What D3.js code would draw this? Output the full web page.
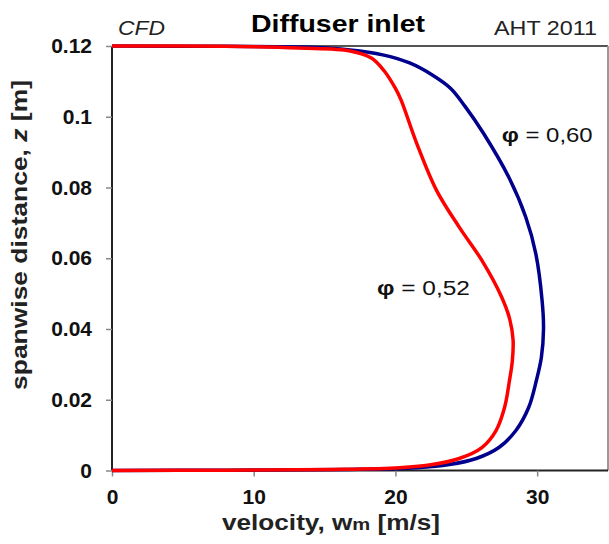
<!DOCTYPE html>
<html>
<head>
<meta charset="utf-8">
<script src="https://cdn.jsdelivr.net/npm/d3@7"></script>
<style>
  html, body { margin: 0; padding: 0; background: #fff; }
  svg { display: block; font-family: "Liberation Sans", Arial, sans-serif; }
</style>
</head>
<body>
<svg id="chart" width="609" height="544"></svg>
<script>
// ---- data ----
// phi = 0.52 (red): velocity [m/s] and spanwise distance z [m], ordered along the curve
const red_v = [0, 8, 15.6, 20.3, 22.6, 24.5, 26.1, 27.1, 27.7, 28.05, 28.25, 28.3, 28.05, 27.5, 26.1, 24.5, 22.9, 21.5, 20.4, 20.0, 19.2, 18.3, 16.8, 13.2, 8, 0];
const red_z = [0, 0.0001, 0.0003, 0.0008, 0.0017, 0.0034, 0.0065, 0.0113, 0.0178, 0.0255, 0.0310, 0.0370, 0.0430, 0.0490, 0.0594, 0.0688, 0.0792, 0.0925, 0.1047, 0.1080, 0.1130, 0.1166, 0.1186, 0.1194, 0.1199, 0.12];
// phi = 0.60 (blue)
const blue_v = [0, 8, 16.5, 21.5, 23.8, 25.7, 27.3, 28.5, 29.4, 29.95, 30.3, 30.45, 30.35, 29.9, 29.2, 28.0, 26.2, 24.9, 23.9, 22.6, 21.0, 19.1, 16.8, 13.5, 8, 0];
const blue_z = [0, 0.0001, 0.0003, 0.0008, 0.0017, 0.0034, 0.0065, 0.0113, 0.0178, 0.0255, 0.0320, 0.0400, 0.0480, 0.0614, 0.0716, 0.0829, 0.0954, 0.1030, 0.1080, 0.1118, 0.1152, 0.1175, 0.1189, 0.1197, 0.1199, 0.12];

const xTicks = [0, 10, 20, 30];
const xTickLabels = ["0", "10", "20", "30"];
const yTicks = [0, 0.02, 0.04, 0.06, 0.08, 0.10, 0.12];
const yTickLabels = ["0", "0.02", "0.04", "0.06", "0.08", "0.1", "0.12"];

const seriesNames = ["φ = 0,60", "φ = 0,52"];

// ---- layout ----
const svg = d3.select("#chart");
const L = 112, R = 608, T = 46, B = 470.5;
const x = d3.scaleLinear().domain([0, 35]).range([L, R]);
const y = d3.scaleLinear().domain([0, 0.12]).range([B, T]);

// helper: text placed at (px,py), horizontally stretched to a target width
function stretchedText(px, py, anchor, target, rot) {
  const g = svg.append("g");
  const t = g.append("text").attr("text-anchor", anchor).attr("fill", "#111");
  return {
    g, t,
    fit() {
      const w = t.node().getComputedTextLength();
      const s = target / w;
      g.attr("transform", `translate(${px},${py})` + (rot ? ` rotate(${rot})` : "") + ` scale(${s},1)`);
    }
  };
}

// frame (top and right)
svg.append("line").attr("x1", L).attr("x2", R).attr("y1", T).attr("y2", T)
  .attr("stroke", "#555").attr("stroke-width", 2);
svg.append("line").attr("x1", R).attr("x2", R).attr("y1", T).attr("y2", B)
  .attr("stroke", "#999").attr("stroke-width", 2);

// axes
const yAxis = d3.axisLeft(y).tickValues(yTicks)
  .tickFormat((d, i) => yTickLabels[i]).tickSize(6).tickPadding(14);
const xAxis = d3.axisBottom(x).tickValues(xTicks)
  .tickFormat((d, i) => xTickLabels[i]).tickSize(6).tickPadding(13);

const gy = svg.append("g").attr("transform", `translate(${L},0)`).call(yAxis);
const gx = svg.append("g").attr("transform", `translate(0,${B})`).call(xAxis);
[gx, gy].forEach(g => {
  g.select(".domain").attr("stroke", "#222").attr("stroke-width", 2);
  g.selectAll(".tick line").attr("stroke", "#888").attr("stroke-width", 1.5);
  g.selectAll(".tick text").attr("fill", "#111")
    .style("font-family", '"Liberation Sans", Arial, sans-serif')
    .style("font-size", "21px").style("font-weight", "bold");
});
gy.select(".domain").attr("d", `M0,${T}V${B}`);
gx.select(".domain").attr("d", `M${L},0H${R}`);

// curves
const line = d3.line().x(d => x(d[0])).y(d => y(d[1])).curve(d3.curveCatmullRom.alpha(0.5));
const blueData = blue_v.map((v, i) => [v, blue_z[i]]);
const redData = red_v.map((v, i) => [v, red_z[i]]);
svg.append("path").datum(blueData).attr("d", line)
  .attr("fill", "none").attr("stroke", "#00008c").attr("stroke-width", 3.5);
svg.append("path").datum(redData).attr("d", line)
  .attr("fill", "none").attr("stroke", "#ff0000").attr("stroke-width", 3.5);

// annotations
function phiLabel(txt, vx, vz, w) {
  const o = stretchedText(x(vx), y(vz), "start", w);
  o.t.style("font-size", "21px");
  o.t.append("tspan").style("font-weight", "bold").text(txt.slice(0, 1));
  o.t.append("tspan").text(txt.slice(1));
  o.fit();
}
phiLabel(seriesNames[0], 27.5, 0.0929, 91);
phiLabel(seriesNames[1], 18.7, 0.0496, 93);

// titles
const cfd = stretchedText(118, 35, "start", 47);
cfd.t.style("font-size", "21px").style("font-style", "italic").attr("fill", "#222").text("CFD");
cfd.fit();

const ttl = stretchedText(338, 32, "middle", 174);
ttl.t.style("font-size", "23px").style("font-weight", "bold").attr("fill", "#000").text("Diffuser inlet");
ttl.fit();

const aht = stretchedText(597, 35, "end", 103);
aht.t.style("font-size", "20px").attr("fill", "#222").text("AHT 2011");
aht.fit();

// x axis title
const xt = stretchedText(331, 530, "middle", 218);
xt.t.style("font-size", "22px").style("font-weight", "bold").attr("fill", "#222");
xt.t.append("tspan").text("velocity, w");
xt.t.append("tspan").style("font-size", "17px").text("m");
xt.t.append("tspan").text(" [m/s]");
xt.fit();

// y axis title
const yt = stretchedText(27, 235, "middle", 310, -90);
yt.t.style("font-size", "22px").style("font-weight", "bold").attr("fill", "#222");
yt.t.append("tspan").text("spanwise distance,  ");
yt.t.append("tspan").style("font-style", "italic").text("z");
yt.t.append("tspan").text(" [m]");
yt.fit();
</script>
</body>
</html>
